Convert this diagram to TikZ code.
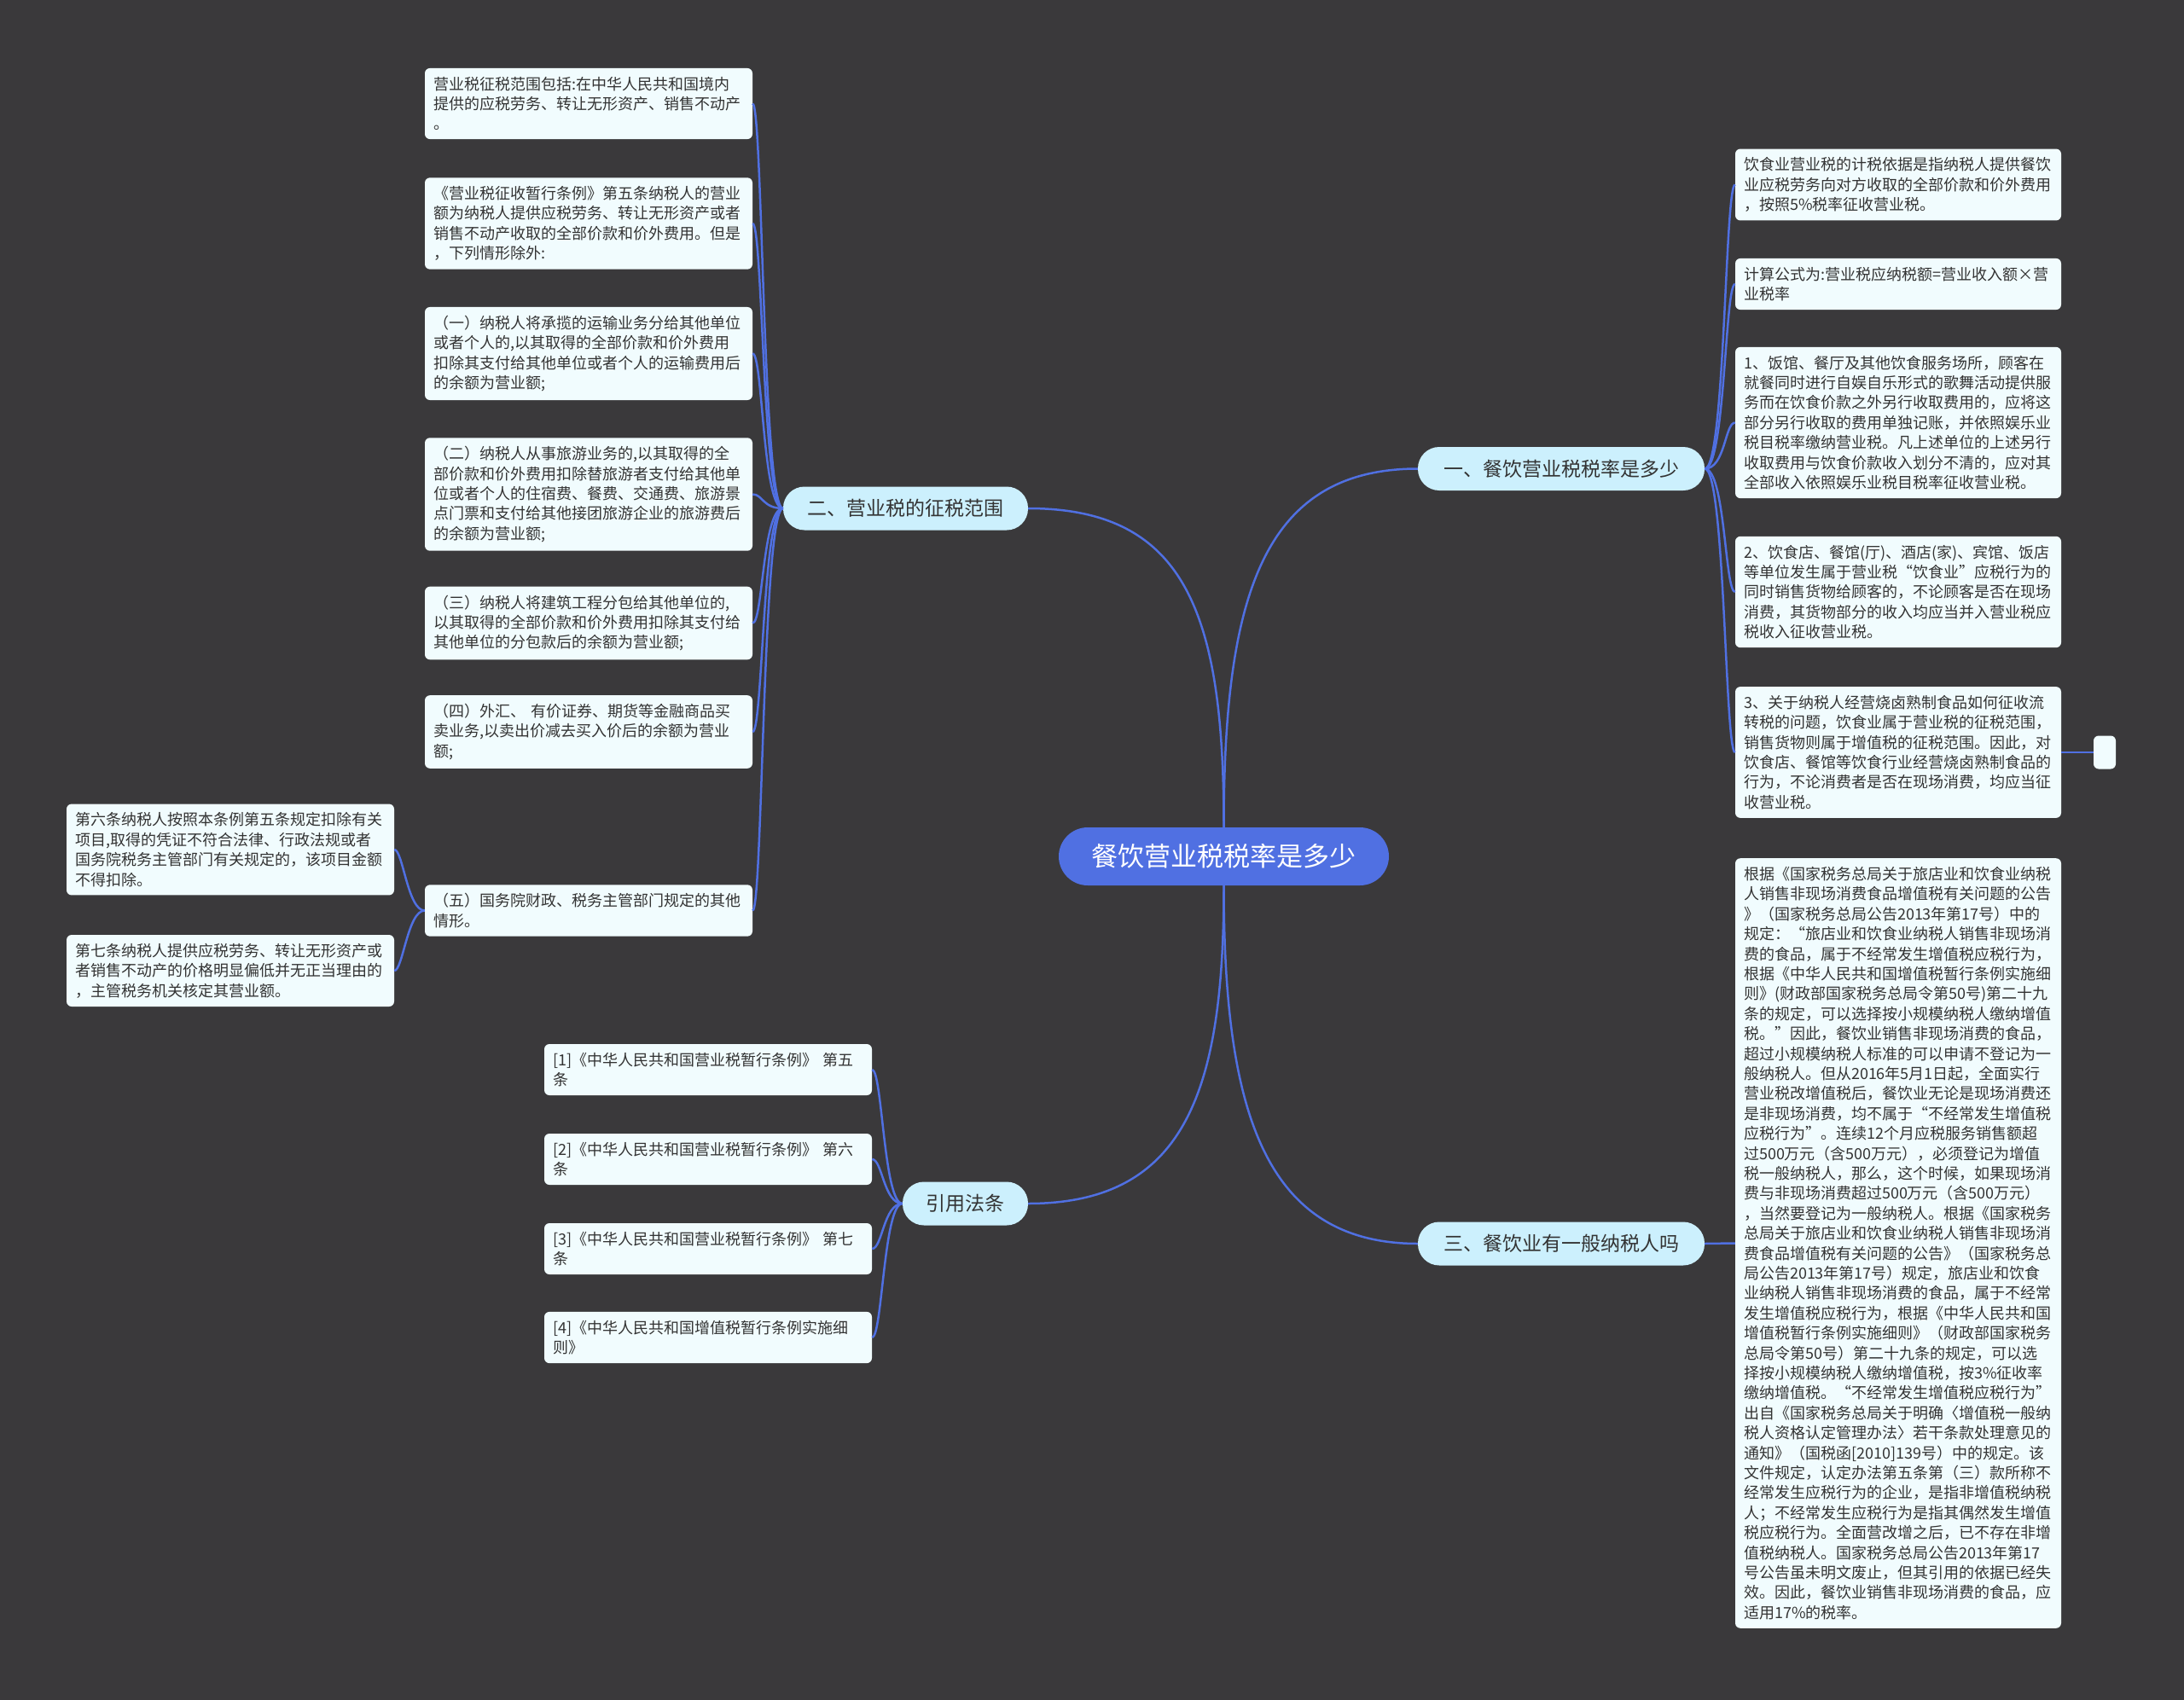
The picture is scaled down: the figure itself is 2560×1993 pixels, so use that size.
\documentclass[tikz,border=0pt]{standalone}
\usepackage{fontspec}
\setmainfont{Noto Sans CJK SC}
\definecolor{bgc}{RGB}{58,57,59}
\definecolor{linec}{RGB}{80,112,226}
\definecolor{centc}{RGB}{80,112,226}
\definecolor{branchc}{RGB}{204,240,253}
\definecolor{leafc}{RGB}{241,252,254}
\definecolor{txt}{RGB}{51,51,51}
\tikzset{
  leaf/.style={fill=leafc, rounded corners=6pt, text width=364pt, align=left, inner xsep=10pt, inner ysep=10pt, font=\fontsize{18}{23.4}\selectfont, text=txt},
  rleaf/.style={leaf, text width=362pt},
  branch/.style={fill=branchc, rounded corners=25pt, minimum height=51pt, inner xsep=4pt, font=\fontsize{23}{28}\selectfont, text=txt},
  center/.style={fill=centc, rounded corners=34pt, minimum height=68pt, minimum width=387pt, font=\fontsize{31}{36}\selectfont, text=white},
  link/.style={draw=linec, line width=2.5pt},
}
\begin{document}
\begin{tikzpicture}[x=1pt,y=-1pt]
\useasboundingbox (0,0) rectangle (2560,1993);
\fill[bgc] (0,0) rectangle (2560,1993);

% central and branches
\node[center] (c) at (1434.5,1004) {餐饮营业税税率是多少};
\node[branch, minimum width=336pt] (b1) at (1830,549.5) {一、餐饮营业税税率是多少};
\node[branch, minimum width=287pt] (b2) at (1061.5,596) {二、营业税的征税范围};
\node[branch, minimum width=147pt] (b4) at (1131.5,1411) {引用法条};
\node[branch, minimum width=336pt] (b3) at (1830,1458) {三、餐饮业有一般纳税人吗};

% right leaves
\node[rleaf] (r1) at (2225,216.5) {饮食业营业税的计税依据是指纳税人提供餐饮\\业应税劳务向对方收取的全部价款和价外费用\\，按照5\%税率征收营业税。};
\node[rleaf] (r2) at (2225,333) {计算公式为:营业税应纳税额=营业收入额×营\\业税率};
\node[rleaf] (r3) at (2225,495.5) {1、饭馆、餐厅及其他饮食服务场所，顾客在\\就餐同时进行自娱自乐形式的歌舞活动提供服\\务而在饮食价款之外另行收取费用的，应将这\\部分另行收取的费用单独记账，并依照娱乐业\\税目税率缴纳营业税。凡上述单位的上述另行\\收取费用与饮食价款收入划分不清的，应对其\\全部收入依照娱乐业税目税率征收营业税。};
\node[rleaf] (r4) at (2225,694) {2、饮食店、餐馆(厅)、酒店(家)、宾馆、饭店\\等单位发生属于营业税“饮食业”应税行为的\\同时销售货物给顾客的，不论顾客是否在现场\\消费，其货物部分的收入均应当并入营业税应\\税收入征收营业税。};
\node[rleaf] (r5) at (2225,882) {3、关于纳税人经营烧卤熟制食品如何征收流\\转税的问题，饮食业属于营业税的征税范围，\\销售货物则属于增值税的征税范围。因此，对\\饮食店、餐馆等饮食行业经营烧卤熟制食品的\\行为，不论消费者是否在现场消费，均应当征\\收营业税。};
\node[fill=leafc, rounded corners=6pt, minimum width=26pt, minimum height=39pt, inner sep=0pt] (r5a) at (2467,882) {};
\node[rleaf] (r6) at (2225,1457.5) {根据《国家税务总局关于旅店业和饮食业纳税\\人销售非现场消费食品增值税有关问题的公告\\》（国家税务总局公告2013年第17号）中的\\规定：“旅店业和饮食业纳税人销售非现场消\\费的食品，属于不经常发生增值税应税行为，\\根据《中华人民共和国增值税暂行条例实施细\\则》(财政部国家税务总局令第50号)第二十九\\条的规定，可以选择按小规模纳税人缴纳增值\\税。”因此，餐饮业销售非现场消费的食品，\\超过小规模纳税人标准的可以申请不登记为一\\般纳税人。但从2016年5月1日起，全面实行\\营业税改增值税后，餐饮业无论是现场消费还\\是非现场消费，均不属于“不经常发生增值税\\应税行为”。连续12个月应税服务销售额超\\过500万元（含500万元），必须登记为增值\\税一般纳税人，那么，这个时候，如果现场消\\费与非现场消费超过500万元（含500万元）\\，当然要登记为一般纳税人。根据《国家税务\\总局关于旅店业和饮食业纳税人销售非现场消\\费食品增值税有关问题的公告》（国家税务总\\局公告2013年第17号）规定，旅店业和饮食\\业纳税人销售非现场消费的食品，属于不经常\\发生增值税应税行为，根据《中华人民共和国\\增值税暂行条例实施细则》（财政部国家税务\\总局令第50号）第二十九条的规定，可以选\\择按小规模纳税人缴纳增值税，按3\%征收率\\缴纳增值税。“不经常发生增值税应税行为”\\出自《国家税务总局关于明确〈增值税一般纳\\税人资格认定管理办法〉若干条款处理意见的\\通知》（国税函[2010]139号）中的规定。该\\文件规定，认定办法第五条第（三）款所称不\\经常发生应税行为的企业，是指非增值税纳税\\人；不经常发生应税行为是指其偶然发生增值\\税应税行为。全面营改增之后，已不存在非增\\值税纳税人。国家税务总局公告2013年第17\\号公告虽未明文废止，但其引用的依据已经失\\效。因此，餐饮业销售非现场消费的食品，应\\适用17\%的税率。};

% left leaves
\node[leaf] (l1) at (690,121.5) {营业税征税范围包括:在中华人民共和国境内\\提供的应税劳务、转让无形资产、销售不动产\\。};
\node[leaf] (l2) at (690,262) {《营业税征收暂行条例》第五条纳税人的营业\\额为纳税人提供应税劳务、转让无形资产或者\\销售不动产收取的全部价款和价外费用。但是\\，下列情形除外:};
\node[leaf] (l3) at (690,414.5) {（一）纳税人将承揽的运输业务分给其他单位\\或者个人的,以其取得的全部价款和价外费用\\扣除其支付给其他单位或者个人的运输费用后\\的余额为营业额;};
\node[leaf] (l4) at (690,579.5) {（二）纳税人从事旅游业务的,以其取得的全\\部价款和价外费用扣除替旅游者支付给其他单\\位或者个人的住宿费、餐费、交通费、旅游景\\点门票和支付给其他接团旅游企业的旅游费后\\的余额为营业额;};
\node[leaf] (l5) at (690,730.5) {（三）纳税人将建筑工程分包给其他单位的,\\以其取得的全部价款和价外费用扣除其支付给\\其他单位的分包款后的余额为营业额;};
\node[leaf] (l6) at (690,858) {（四）外汇、 有价证券、期货等金融商品买\\卖业务,以卖出价减去买入价后的余额为营业\\额;};
\node[leaf] (l7) at (690,1067.5) {（五）国务院财政、税务主管部门规定的其他\\情形。};
\node[leaf] (f1) at (270,996) {第六条纳税人按照本条例第五条规定扣除有关\\项目,取得的凭证不符合法律、行政法规或者\\国务院税务主管部门有关规定的，该项目金额\\不得扣除。};
\node[leaf] (f2) at (270,1138) {第七条纳税人提供应税劳务、转让无形资产或\\者销售不动产的价格明显偏低并无正当理由的\\，主管税务机关核定其营业额。};

% citations
\node[leaf] (k1) at (830,1254) {[1]《中华人民共和国营业税暂行条例》 第五\\条};
\node[leaf] (k2) at (830,1359) {[2]《中华人民共和国营业税暂行条例》 第六\\条};
\node[leaf] (k3) at (830,1464) {[3]《中华人民共和国营业税暂行条例》 第七\\条};
\node[leaf] (k4) at (830,1568) {[4]《中华人民共和国增值税暂行条例实施细\\则》};

% connectors: center to branches
\draw[link] (c.north) .. controls +(0,-270) and +(-182,0) .. (b1.west);
\draw[link] (c.north) .. controls +(0,-250) and +(185,0) .. (b2.east);
\draw[link] (c.south) .. controls +(0,240) and +(185,0) .. (b4.east);
\draw[link] (c.south) .. controls +(0,260) and +(-182,0) .. (b3.west);

% branch 1 to right leaves
\foreach \n in {r1,r2,r3,r4,r5}
  \draw[link] (b1.east) .. controls +(24,0) and +(-12,0) .. (\n.west);
\draw[link] (r5.east) -- (r5a.west);
\draw[link] (b3.east) .. controls +(18,0) and +(-18,0) .. (r6.west);

% branch 2 to left leaves
\foreach \n in {l1,l2,l3,l4,l5,l6,l7}
  \draw[link] (b2.west) .. controls +(-24,0) and +(12,0) .. (\n.east);
\draw[link] (l7.west) .. controls +(-20,0) and +(10,0) .. (f1.east);
\draw[link] (l7.west) .. controls +(-20,0) and +(10,0) .. (f2.east);

% citations
\foreach \n in {k1,k2,k3,k4}
  \draw[link] (b4.west) .. controls +(-22,0) and +(12,0) .. (\n.east);
\end{tikzpicture}
\end{document}
